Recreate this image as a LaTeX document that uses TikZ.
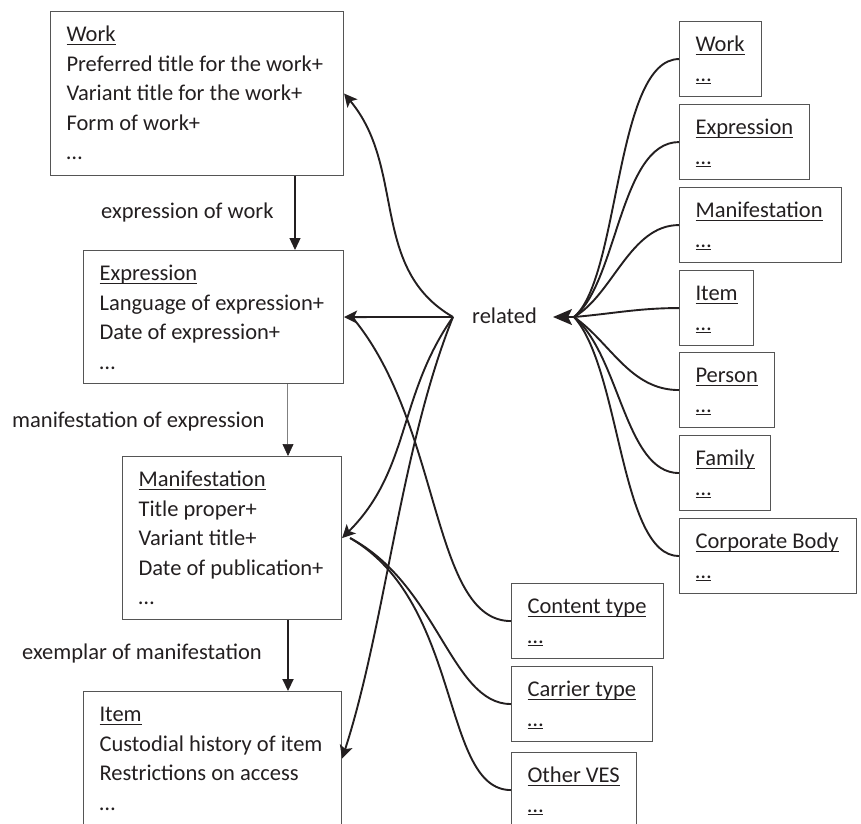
\documentclass[tikz,border=0pt]{standalone}
\usepackage{fontspec}
\setmainfont{Carlito}
\usetikzlibrary{arrows.meta}

\definecolor{ink}{RGB}{35,31,32}
\definecolor{frame}{RGB}{85,85,85}

\def\firstBase{30pt}
\def\boxPad{16pt}
\def\rowH{75pt}
\def\rightX{679}
\def\lowX{511}

% underline at a fixed depth
\newcommand{\entul}[1]{\setbox0\hbox{#1}\rlap{\rule[-3.2pt]{\wd0}{1.2pt}}\box0}
% box with fixed size, text set from the top left corner
\newcommand{\entbox}[3]{%
  \parbox[c][#2][t]{#1}{\rule{0pt}{\firstBase}\hspace*{\boxPad}%
    \begin{tabular}[t]{@{}l@{}}#3\end{tabular}}}

\tikzset{
  ent/.style={draw=frame, line width=1.1pt, inner sep=0pt, anchor=north west,
    text=ink, font=\fontsize{22.5}{29.5}\selectfont},
  lbl/.style={text=ink, inner sep=0pt, anchor=base west, font=\fontsize{22.5}{29.5}\selectfont},
  rel/.style={draw=ink, line width=1.9pt},
  relarrow/.style={rel, -{Stealth[length=13pt,width=13pt,inset=3pt]}},
  hubarrow/.style={rel, -{Stealth[length=19pt,width=16pt,inset=4pt]}},
  flow/.style={draw=ink, line width=1.2pt, -{Triangle[length=12pt,width=11pt,color=ink]}},
}

\begin{document}
\begin{tikzpicture}[x=1pt,y=-1pt]
  \useasboundingbox (0,0) rectangle (861,823);

  % main entities
  \node[ent] (work) at (50,11) {\entbox{293pt}{164pt}{\entul{Work}\\Preferred title for the work+\\Variant title for the work+\\Form of work+\\…}};
  \node[ent] (expr) at (83,250) {\entbox{260pt}{133pt}{\entul{Expression}\\Language of expression+\\Date of expression+\\…}};
  \node[ent] (mani) at (122,456) {\entbox{219pt}{163pt}{\entul{Manifestation}\\Title proper+\\Variant title+\\Date of publication+\\…}};
  \node[ent] (item) at (83,691) {\entbox{258pt}{134pt}{\entul{Item}\\Custodial history of item\\Restrictions on access\\…}};

  % related entities
  \foreach \n/\y/\w/\ttl in {rwork/21/82/Work, rexpr/104/130/Expression, rmani/187/162/Manifestation,
      ritem/270/74/Item, rpers/352/95/Person, rfam/435/91/Family, rcorp/518/177/Corporate Body} {
    \node[ent] (\n) at (\rightX,\y) {\entbox{\w pt}{\rowH}{\entul{\ttl}\\\entul{…}}};
  }
  \foreach \n/\y/\w/\ttl in {ctype/583/152/Content type, catype/666/141/Carrier type, oves/752/125/Other VES} {
    \node[ent] (\n) at (\lowX,\y) {\entbox{\w pt}{\rowH}{\entul{\ttl}\\\entul{…}}};
  }

  % labels
  \node[lbl] (lexpr) at (101,218) {expression of work};
  \node[lbl] (lmani) at (12,427) {manifestation of expression};
  \node[lbl] (litem) at (22,659) {exemplar of manifestation};
  \node[lbl] (rel) at (472,323) {related};

  \coordinate (hubL) at (453,317);
  \coordinate (hubR) at (553,317);
  \coordinate (hubRe) at (574,317);

  % main chain
  \draw[flow] (work.south -| 295,0) -- (expr.north -| 295,0);
  \draw[flow, draw=gray, double=white, double distance=0.7pt, line width=0.6pt] (expr.south -| 288,0) -- (mani.north -| 288,0);
  \draw[flow, line width=2pt] (mani.south -| 288,0) -- (item.north -| 288,0);

  % related, left side
  \draw[relarrow] (hubL) to[out=150,in=-50] (work.east);
  \draw[relarrow] (hubL) -- (expr.east);
  \draw[relarrow] (hubL) to[out=-125,in=45] (mani.east);
  \draw[relarrow] (hubL) to[out=-112,in=72,looseness=0.78] (item.east);
  \draw[rel] (ctype.west) to[out=180,in=-50,out distance=80pt,in distance=140pt] ([xshift=8pt]expr.east);
  \draw[rel] (catype.west) to[out=180,in=-28,out distance=60pt,in distance=100pt] ([xshift=8pt]mani.east);
  \draw[rel] (oves.west) to[out=180,in=-30,out distance=70pt,in distance=130pt] ([xshift=8pt]mani.east);

  % related, right side
  \foreach \n/\a/\ind/\outd in {rwork/40/60/64, rexpr/38/55/59, rmani/30/45/49, ritem/5/40/40,
      rpers/-35/45/49, rfam/-40/60/54, rcorp/-48/70/59} {
    \draw[rel] (\n.west) to[out=180,in=\a,in distance=\ind pt,out distance=\outd pt] (hubRe);
  }
  \draw[hubarrow] (hubRe) -- (hubR);
\end{tikzpicture}
\end{document}
